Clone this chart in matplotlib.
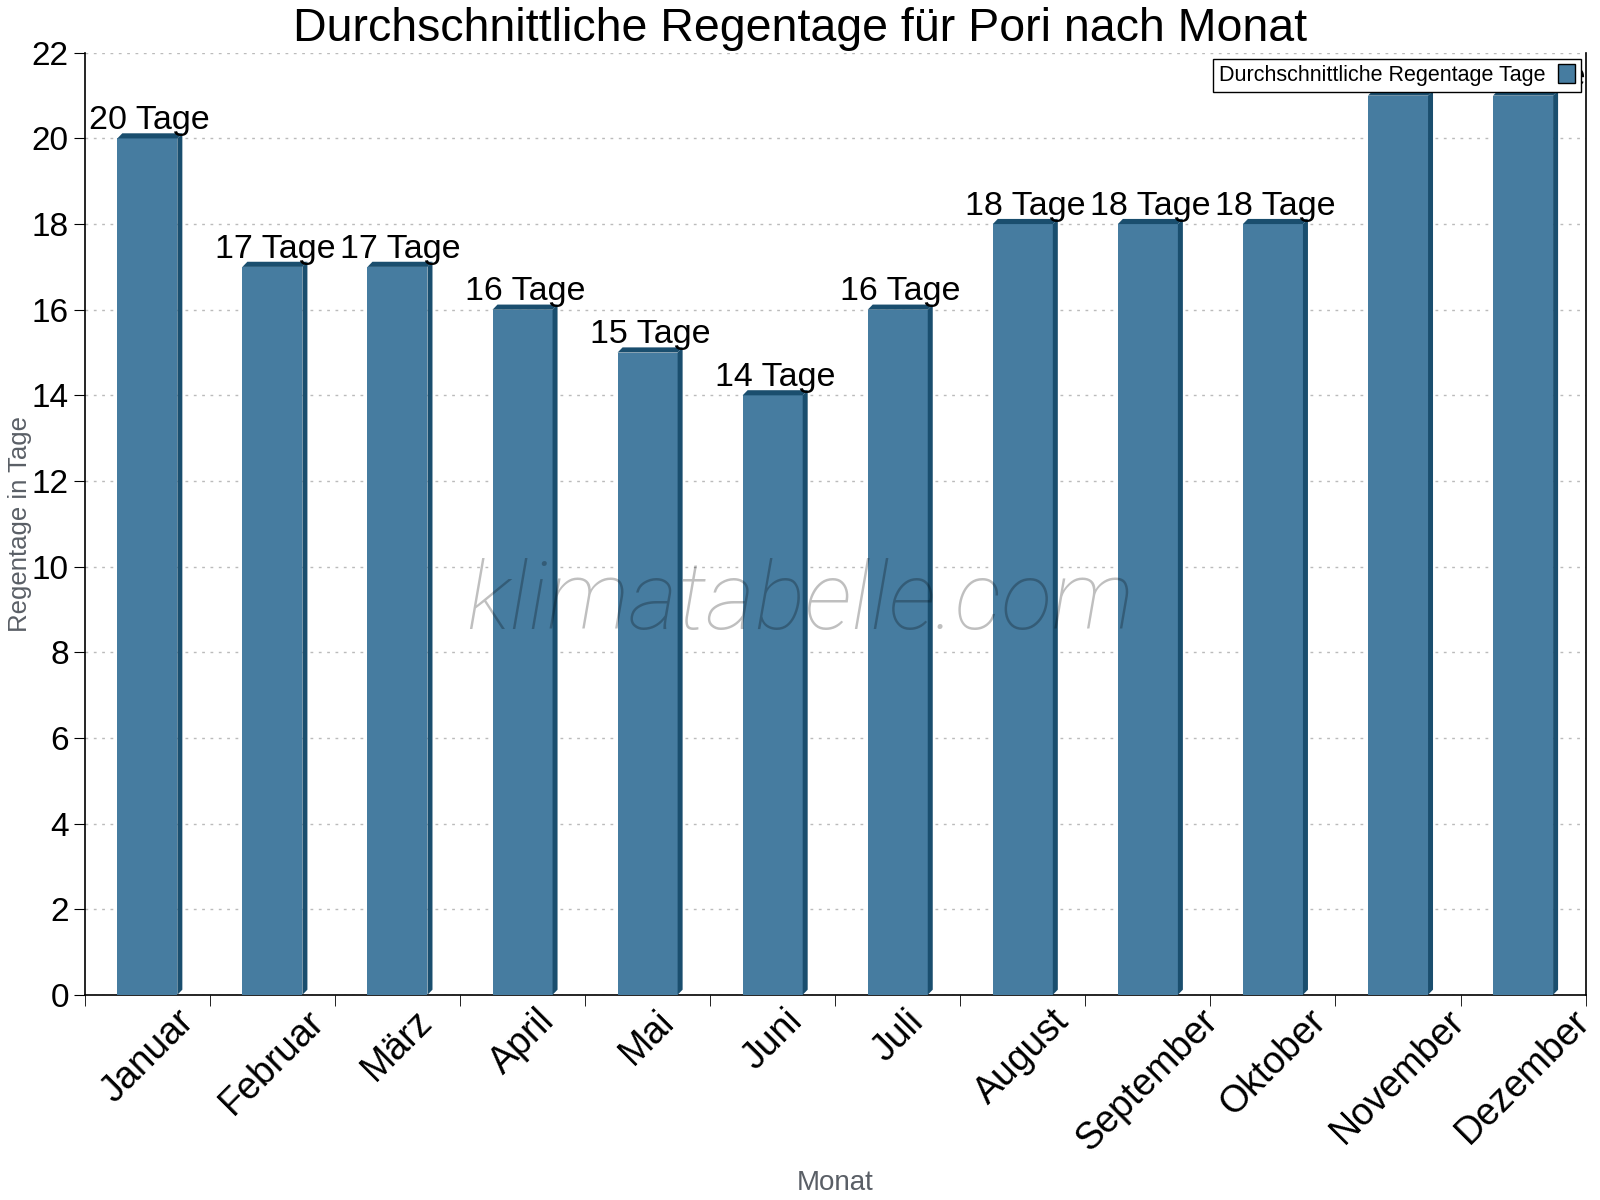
import matplotlib
matplotlib.use("Agg")
import matplotlib.pyplot as plt
from matplotlib.patches import Polygon, Patch
import numpy as np

months = ["Januar", "Februar", "März", "April", "Mai", "Juni", "Juli",
          "August", "September", "Oktober", "November", "Dezember"]
rain_days = [20, 17, 17, 16, 15, 14, 16, 18, 18, 18, 21, 21]

FACE, SIDE = "#467ca0", "#1a4e6e"
GRAYTXT = "#5a5f66"

plt.rcParams["font.family"] = ["Liberation Sans", "DejaVu Sans"]

fig = plt.figure(figsize=(16, 12), dpi=100)
ax = fig.add_axes([0.053, 0.171, 0.938, 0.785])

x = np.arange(len(months))
w = 0.48
dx, dy = 0.04, 0.12  # fake 3D depth

ax.bar(x, rain_days, w, color=FACE, zorder=3)
for xi, h in zip(x, rain_days):
    x0, x1 = xi - w / 2, xi + w / 2
    ax.add_patch(Polygon([(x0, h), (x0 + dx, h + dy), (x1 + dx, h + dy), (x1, h)],
                         closed=True, color=SIDE, zorder=3, lw=0))
    ax.add_patch(Polygon([(x1, 0), (x1 + dx, dy), (x1 + dx, h + dy), (x1, h)],
                         closed=True, color=SIDE, zorder=3, lw=0))
    ax.annotate(f"{h} Tage", (xi + dx / 2, h + dy), textcoords="offset points",
                xytext=(0, -2), ha="center", va="bottom", fontsize=24.5, zorder=4)

ax.set_xlim(-0.5, len(months) - 0.5)
ax.set_ylim(0, 22)
ax.set_yticks(np.arange(0, 23, 2))
ax.tick_params(axis="y", labelsize=24, length=8, direction="out")

ax.set_xticks(x)
ax.set_xticklabels(months, rotation=45, ha="center", fontsize=27)
ax.tick_params(axis="x", which="major", length=0, pad=6)
ax.set_xticks(np.arange(-0.5, len(months)), minor=True)
ax.tick_params(axis="x", which="minor", length=8, direction="out")

ax.grid(axis="y", color="#bbbbbb", ls=(0, (2, 4)), lw=1, zorder=0)
ax.spines["top"].set_visible(False)
for s in ("left", "bottom", "right"):
    ax.spines[s].set_linewidth(1.2)

ax.set_ylabel("Regentage in Tage", fontsize=18.5, color=GRAYTXT)
ax.set_xlabel("Monat", fontsize=20, color=GRAYTXT)
ax.xaxis.set_label_coords(0.5, -0.186)
ax.yaxis.set_label_coords(-0.035, 0.5)

fig.suptitle("Durchschnittliche Regentage für Pori nach Monat", fontsize=33.5, y=0.994)

leg = ax.legend(handles=[Patch(facecolor=FACE, edgecolor="black", label="Durchschnittliche Regentage Tage")],
                loc="upper right", bbox_to_anchor=(0.9967, 0.9936), borderaxespad=0,
                fontsize=15.5, markerfirst=False, fancybox=False, framealpha=1,
                edgecolor="black", handlelength=0.8, handleheight=1.0, borderpad=0.25,
                handletextpad=0.6)
leg.set_zorder(10)
leg.get_frame().set_linewidth(1)

fig.text(0.5, 0.497, "klimatabelle.com", ha="center", va="center", fontsize=68,
         family="Roboto", style="italic", fontweight="light", color="black", alpha=0.25, zorder=5)

fig.savefig("out.png", dpi=100)
